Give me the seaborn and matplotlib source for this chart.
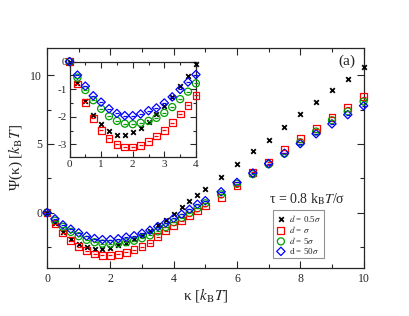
import numpy as np
import pandas as pd
import matplotlib
matplotlib.use("Agg")
import matplotlib.pyplot as plt
from matplotlib.ticker import MultipleLocator
import seaborn as sns

# ---------------- data ----------------
kappa = [0, 0.25, 0.5, 0.75, 1.0, 1.25, 1.5, 1.75, 2.0, 2.25, 2.5, 2.75, 3.0, 3.25,
         3.5, 3.75, 4.0, 4.25, 4.5, 4.75, 5.0, 5.5, 6.0, 6.5, 7.0, 7.5, 8.0, 8.5,
         9.0, 9.5, 10.0]
psi_d05 = [0, -0.78, -1.43, -1.94, -2.28, -2.53, -2.65, -2.65, -2.55, -2.38, -2.20,
           -1.93, -1.65, -1.32, -0.91, -0.52, -0.07, 0.39, 0.82, 1.30, 1.69, 2.60,
           3.52, 4.46, 5.32, 6.24, 7.18, 8.05, 8.92, 9.76, 10.62]
psi_d1 = [0, -0.81, -1.48, -2.05, -2.49, -2.78, -3.00, -3.10, -3.10, -3.03, -2.89,
          -2.70, -2.49, -2.21, -1.75, -1.30, -0.91, -0.58, -0.21, 0.12, 0.48, 1.13,
          1.97, 2.94, 3.69, 4.58, 5.37, 6.10, 6.94, 7.66, 8.43]
psi_d5 = [0, -0.58, -1.03, -1.40, -1.71, -1.98, -2.15, -2.25, -2.27, -2.22, -2.15,
          -2.04, -1.86, -1.65, -1.36, -1.05, -0.69, -0.38, -0.02, 0.32, 0.68, 1.33,
          2.10, 2.80, 3.52, 4.30, 5.12, 5.90, 6.72, 7.37, 8.09]
psi_d50 = [0, -0.45, -0.89, -1.20, -1.47, -1.71, -1.88, -1.96, -1.96, -1.90, -1.78,
           -1.68, -1.50, -1.28, -1.01, -0.74, -0.41, -0.12, 0.24, 0.61, 0.87, 1.52,
           2.20, 2.88, 3.57, 4.32, 5.02, 5.74, 6.46, 7.13, 7.78]

inset_kappa = [0, 0.25, 0.5, 0.75, 1.0, 1.25, 1.5, 1.75, 2.0, 2.25, 2.5, 2.75, 3.0,
               3.25, 3.5, 3.75, 4.0]
inset_d05 = [0, -0.77, -1.43, -1.94, -2.28, -2.53, -2.65, -2.65, -2.55, -2.39, -2.18,
             -1.91, -1.62, -1.28, -0.89, -0.51, -0.10]
inset_d1 = [0, -0.81, -1.48, -2.05, -2.49, -2.78, -3.00, -3.10, -3.10, -3.03, -2.89,
            -2.70, -2.49, -2.21, -1.90, -1.58, -1.22]
inset_d5 = [0, -0.58, -1.03, -1.40, -1.71, -1.98, -2.15, -2.25, -2.27, -2.22, -2.15,
            -2.04, -1.86, -1.65, -1.36, -1.09, -0.79]
inset_d50 = [0, -0.49, -0.89, -1.24, -1.47, -1.71, -1.88, -1.96, -1.96, -1.90, -1.78,
             -1.68, -1.50, -1.28, -1.01, -0.74, -0.47]

labels = [r"$d$ = 0.5$\sigma$", r"$d$ = $\sigma$", r"$d$ = 5$\sigma$", r"d = 50$\sigma$"]
colors = ["black", "#ff0000", "#00a000", "#0000ff"]
markers = ["x", "s", "o", "D"]
sizes = [11, 24, 26, 18]

# ---------------- style ----------------
sns.set_style("ticks")
plt.rcParams["font.family"] = ["Liberation Serif", "DejaVu Serif"]
plt.rcParams["mathtext.fontset"] = "stix"
plt.rcParams["xtick.direction"] = "in"
plt.rcParams["ytick.direction"] = "in"

fig = plt.figure(figsize=(4.09, 3.16), dpi=100)
ax = fig.add_axes([0.115, 0.153, 0.774, 0.696])
axin = fig.add_axes([0.170, 0.504, 0.309, 0.301])


def draw(a, xs, series, with_label):
    for ys, lab, col, mk, sz in zip(series, labels, colors, markers, sizes):
        df = pd.DataFrame({"k": xs, "psi": ys})
        if mk == "x":
            sns.scatterplot(data=df, x="k", y="psi", ax=a, marker="x", color=col,
                            s=sz, linewidth=1.3, clip_on=False,
                            label=lab if with_label else None, zorder=3)
        else:
            sns.scatterplot(data=df, x="k", y="psi", ax=a, marker=mk,
                            facecolor="none", edgecolor=col, s=sz, linewidth=0.9,
                            clip_on=False, label=lab if with_label else None,
                            zorder=3)
        # small error-bar caps drawn inside markers
        sns.scatterplot(data=df, x="k", y="psi", ax=a, marker="_", color=col,
                        s=sz * 0.35, linewidth=0.9, clip_on=False, legend=False,
                        zorder=4)


draw(ax, kappa, [psi_d05, psi_d1, psi_d5, psi_d50], True)
draw(axin, inset_kappa, [inset_d05, inset_d1, inset_d5, inset_d50], False)

# main axes formatting
ax.set_xlim(0, 10)
ax.set_ylim(-4, 12)
ax.xaxis.set_major_locator(MultipleLocator(2))
ax.xaxis.set_minor_locator(MultipleLocator(1))
ax.yaxis.set_major_locator(MultipleLocator(5))
ax.yaxis.set_minor_locator(MultipleLocator(2.5))
ax.tick_params(which="both", top=True, right=True, labelsize=8.5, width=0.8)
ax.tick_params(which="major", length=5)
ax.tick_params(which="minor", length=3)
ax.set_xlabel(r"κ [$k_{\mathrm{B}}T$]", fontsize=11, labelpad=1)
ax.set_ylabel(r"Ψ(κ) [$k_{\mathrm{B}}T$]", fontsize=11, labelpad=4)
for s in ax.spines.values():
    s.set_linewidth(0.9)
    s.set_visible(True)

ax.text(9.48, 11.0, "(a)", fontsize=11, ha="center", va="center")
ax.text(8.2, 1.0, r"τ = 0.8 k$_{\mathrm{B}}$$T$/σ", fontsize=10, ha="center",
        va="center")

leg = ax.legend(loc="upper left", bbox_to_anchor=(0.713, 0.262), fontsize=6.5,
                frameon=True, fancybox=False, edgecolor="#777777",
                handletextpad=0.3, borderpad=0.3, labelspacing=0.0,
                handlelength=1.2, borderaxespad=0)
leg.get_frame().set_linewidth(0.8)

# inset formatting
axin.set_xlim(0, 4)
axin.set_ylim(-3.45, 0.0)
axin.xaxis.set_major_locator(MultipleLocator(1))
axin.xaxis.set_minor_locator(MultipleLocator(0.5))
axin.yaxis.set_major_locator(MultipleLocator(1))
axin.yaxis.set_minor_locator(MultipleLocator(0.5))
axin.tick_params(which="both", top=True, right=True, labelsize=8, width=0.8, pad=2)
axin.tick_params(which="major", length=4)
axin.tick_params(which="minor", length=2)
axin.set_xlabel("")
axin.set_ylabel("")
axin.set_yticks([0, -1, -2, -3])
axin.set_yticklabels(["0", "-1", "-2", "-3"])
for s in axin.spines.values():
    s.set_linewidth(0.9)

fig.savefig("out.png", dpi=100)
